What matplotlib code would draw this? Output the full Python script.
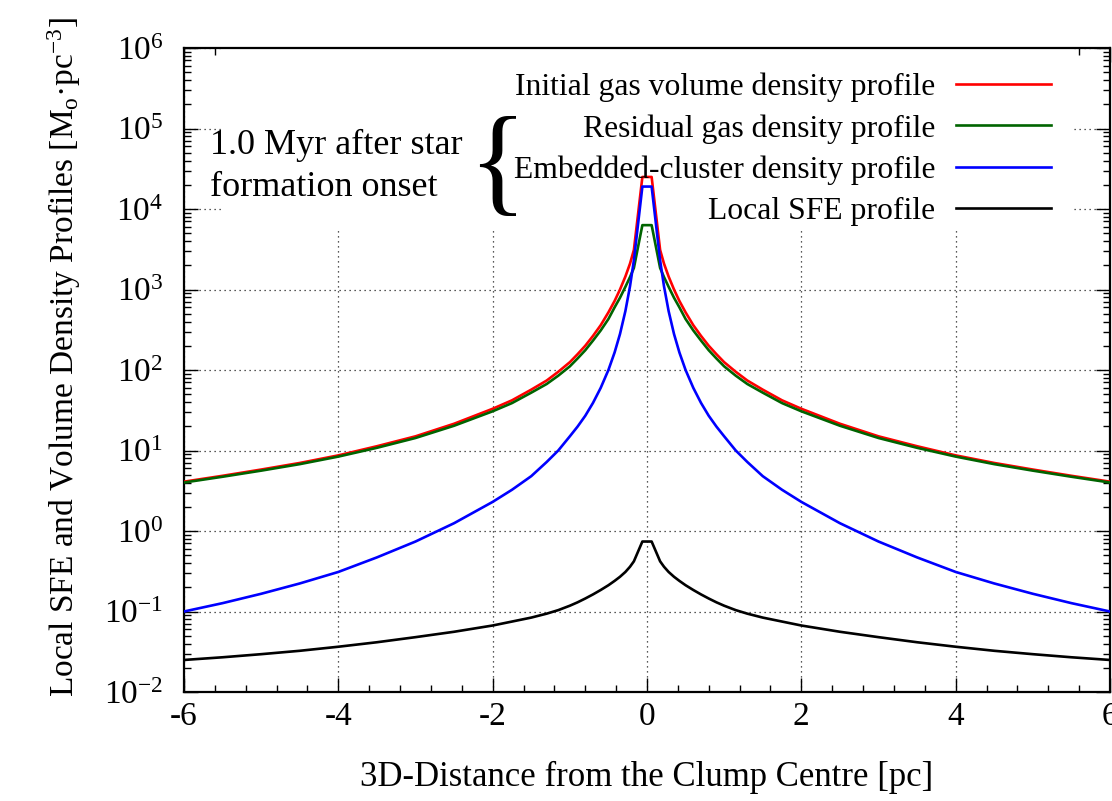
import numpy as np
import matplotlib
matplotlib.use("Agg")
import matplotlib.pyplot as plt
from matplotlib.patches import Rectangle
from matplotlib.ticker import LogLocator, MultipleLocator, NullFormatter

# half profiles (they are symmetric about the centre)
radius = [0.06, 0.17, 0.22, 0.28, 0.35, 0.42, 0.5, 0.6, 0.7, 0.8, 0.9, 1.0, 1.15, 1.3,
          1.5, 1.75, 2.0, 2.5, 3.0, 3.5, 4.0, 4.5, 5.0, 5.5, 6.0]
initial_gas = [25000, 3100, 2100, 1450, 1000, 720, 520, 360, 265, 200, 157, 125, 95, 74,
               57, 42, 33, 21.5, 15, 11.3, 8.7, 7.0, 5.8, 4.85, 4.1]
residual_gas = [6300, 1850, 1430, 1080, 790, 600, 430, 310, 232, 176, 139, 111, 85, 67,
                52.3, 38.8, 30.7, 20.3, 14.3, 10.8, 8.4, 6.77, 5.62, 4.72, 4.0]
cluster = [19000, 2300, 1100, 540, 280, 165, 100, 60, 39, 27, 19.8, 15, 10, 7.2,
           4.8, 3.25, 2.3, 1.25, 0.74, 0.47, 0.31, 0.223, 0.166, 0.127, 0.10]
local_sfe = [0.74, 0.42, 0.36, 0.31, 0.27, 0.24, 0.212, 0.185, 0.163, 0.145, 0.13, 0.118, 0.104, 0.094,
             0.084, 0.075, 0.067, 0.056, 0.048, 0.0415, 0.0365, 0.0325, 0.0295, 0.027, 0.025]

labels = [
    "Initial gas volume density profile",
    "Residual gas density profile",
    "Embedded-cluster density profile",
    "Local SFE profile",
]
colors = ["#ff0000", "#006400", "#0000ff", "#000000"]


def mirror(r, v):
    r = np.asarray(r, dtype=float)
    v = np.asarray(v, dtype=float)
    return np.concatenate([-r[::-1], r]), np.concatenate([v[::-1], v])


plt.rcParams["font.family"] = ["Liberation Serif", "DejaVu Serif"]
plt.rcParams["mathtext.fontset"] = "custom"
plt.rcParams["mathtext.rm"] = "Liberation Serif"
plt.rcParams["mathtext.it"] = "Liberation Serif:italic"
plt.rcParams["axes.unicode_minus"] = False

fig = plt.figure(figsize=(11.12, 8.01), dpi=100)
ax = fig.add_axes([184 / 1112, 109 / 801, 926 / 1112, 644 / 801])

for vals, lab, col in zip([initial_gas, residual_gas, cluster, local_sfe], labels, colors):
    x, y = mirror(radius, vals)
    ax.plot(x, y, color=col, lw=1.9, label=lab, zorder=4)

ax.set_yscale("log")
ax.set_xlim(-6, 6)
ax.set_ylim(1e-2, 1e6)
ax.xaxis.set_major_locator(MultipleLocator(2))
ax.xaxis.set_minor_locator(MultipleLocator(0.4))
ax.yaxis.set_major_locator(LogLocator(base=10, numticks=20))
ax.yaxis.set_minor_locator(LogLocator(base=10, subs=np.arange(2, 10), numticks=20))
ax.yaxis.set_minor_formatter(NullFormatter())

ax.tick_params(which="both", direction="in", top=True, right=True, labelsize=24, width=1.0)
ax.tick_params(which="major", length=10)
ax.tick_params(which="minor", length=5)
ax.tick_params(axis="y", pad=15)
ax.tick_params(axis="x", pad=7)
for s in ax.spines.values():
    s.set_linewidth(1.6)

ax.grid(True, which="major", color="#222222", linestyle=(0, (1, 3)), lw=0.9, zorder=1)

# blank area behind the key and the note, as in the original
ax.add_patch(Rectangle((39 / 926, 464 / 644), 849 / 926, 1 - 464 / 644,
                       transform=ax.transAxes, facecolor="white", edgecolor="none", zorder=2))

leg = ax.legend(loc="upper right", bbox_to_anchor=(0.936, 0.962), frameon=False,
                markerfirst=False, fontsize=22.8, handlelength=3.0, handletextpad=0.65,
                labelspacing=0.38, borderpad=0, borderaxespad=0)
leg.set_zorder(5)

ax.text(26 / 926, (692 - 166) / 644, "1.0 Myr after star\nformation onset", transform=ax.transAxes,
        fontsize=26, ha="left", va="center", linespacing=1.36, zorder=5)
ax.text((497 - 184) / 926, (692 - 171) / 644, "{", transform=ax.transAxes,
        fontsize=87, ha="center", va="center", zorder=5)

ax.set_xlabel("3D-Distance from the Clump Centre [pc]", fontsize=25)
ax.xaxis.set_label_coords(0.5, -0.107)
ax.set_ylabel("Local SFE and Volume Density Profiles [M$_{\\rm o}$\u00b7pc$^{-3}$]", fontsize=24)
ax.yaxis.set_label_coords(-0.109, 0.52)

fig.savefig("out.png", dpi=100)
